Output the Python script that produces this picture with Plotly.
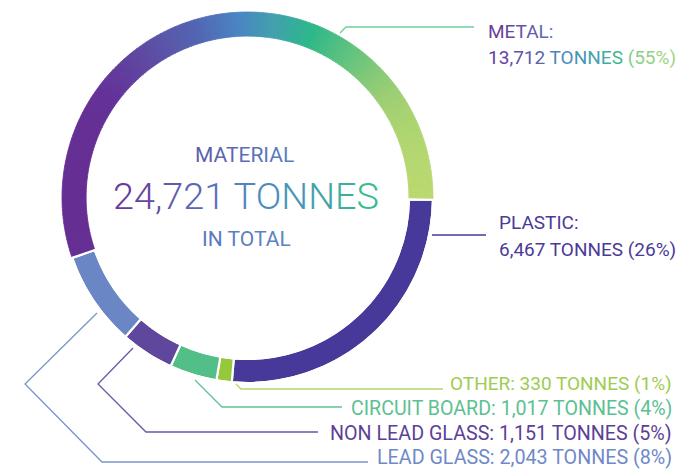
import plotly.graph_objects as go
import math

# ---------------- data ----------------
categories = ["METAL", "PLASTIC", "OTHER", "CIRCUIT BOARD", "NON LEAD GLASS", "LEAD GLASS"]
tonnes = [13712, 6467, 330, 1017, 1151, 2043]
total_label = "24,721"
slice_colors = ["#4a86c3", "#47399a", "#95c83a", "#52be88", "#5f479e", "#6b86c4"]
label_colors = ["#5a6fb5", "#4b3a98", "#9dcd52", "#5cc191", "#5e3f98", "#6f89c8"]

W, H = 678, 470
FONT = "Roboto"


def fx(x):
    return x / W


def fy(y):
    return 1 - y / H


def hex2rgb(h):
    h = h.lstrip("#")
    return tuple(int(h[i:i + 2], 16) for i in (0, 2, 4))


def interp(stops, t):
    t = max(0.0, min(1.0, t))
    for (t0, c0), (t1, c1) in zip(stops[:-1], stops[1:]):
        if t <= t1:
            a = (t - t0) / (t1 - t0) if t1 > t0 else 0
            r0, r1 = hex2rgb(c0), hex2rgb(c1)
            return "#%02x%02x%02x" % tuple(int(round(r0[k] + (r1[k] - r0[k]) * a)) for k in range(3))
    return stops[-1][1]


ring_stops = [(0.0, "#662d91"), (0.12, "#653198"), (0.25, "#5d4fa5"), (0.37, "#5267b3"),
              (0.48, "#4a86c3"), (0.57, "#42a0ae"), (0.67, "#2db88a"), (0.78, "#66c47e"),
              (0.88, "#9ecf73"), (1.0, "#c4dd6e")]


def grad_text(text, stops):
    n = max(1, len(text) - 1)
    out = []
    for i, ch in enumerate(text):
        c = interp(stops, i / n)
        out.append('<span style="color:%s">%s</span>' % (c, ch))
    return "".join(out)


total = sum(tonnes)
pcts = [round(v / total * 100) for v in tonnes]

# donut geometry (pixels)
cx, cy, R = 247.5, 197.5, 185.5
dom_x = [fx(cx - R), fx(cx + R)]
dom_y = [fy(cy + R), fy(cy - R)]
HOLE = 0.87
ROT = 251

fig = go.Figure()
fig.add_trace(go.Pie(
    labels=categories, values=tonnes, sort=False, direction="clockwise", rotation=ROT,
    hole=HOLE, domain=dict(x=dom_x, y=dom_y), textinfo="none", showlegend=False,
    marker=dict(colors=slice_colors, line=dict(color="white", width=2.2)),
))

# gradient overlay on the metal slice (derived from metal value)
N = 160
metal = tonnes[0]
span = metal / total * 360
rmid = R * (1 + HOLE) / 2
grad_cols = []
for i in range(N):
    ang = math.radians(ROT + (i + 0.5) * span / N)
    x = cx + rmid * math.sin(ang)
    grad_cols.append(interp(ring_stops, (x - (cx - R)) / (2 * R)))
fig.add_trace(go.Pie(
    values=[metal / N] * N + [total - metal], labels=["m%d" % i for i in range(N)] + ["rest"],
    sort=False, direction="clockwise", rotation=ROT, hole=HOLE,
    domain=dict(x=dom_x, y=dom_y), textinfo="none", showlegend=False, hoverinfo="skip",
    marker=dict(colors=grad_cols + ["rgba(0,0,0,0)"],
                line=dict(color=grad_cols + ["white"], width=[0.8] * N + [2.2])),
))

ann = []

# center text
ann.append(dict(x=fx(244), y=fy(155), text=grad_text("MATERIAL", [(0, "#5d5fac"), (1, "#5a80c1")]),
                font=dict(family=FONT, size=21), showarrow=False, xanchor="center", yanchor="middle"))
big_stops = [(0, "#6a3a9d"), (0.45, "#5577bb"), (0.7, "#4a8fc0"), (1, "#36bc90")]
ann.append(dict(x=fx(245.5), y=fy(196), text=grad_text(f"{total_label} TONNES", big_stops),
                font=dict(family=FONT, size=37.8, weight=300), showarrow=False,
                xanchor="center", yanchor="middle"))
ann.append(dict(x=fx(246), y=fy(239), text=grad_text("IN TOTAL", [(0, "#5a78bf"), (1, "#5b84c4")]),
                font=dict(family=FONT, size=21), showarrow=False, xanchor="center", yanchor="middle"))

LS = 19

# METAL label (gradient)
ann.append(dict(x=fx(486), y=fy(32), text=grad_text(categories[0] + ":", [(0, "#6b3c9c"), (1, "#5a72b9")]),
                font=dict(family=FONT, size=LS), showarrow=False, xanchor="left", yanchor="middle"))
metal_line = (grad_text(f"{tonnes[0]:,}", [(0, "#6a3a9e"), (1, "#5a63b0")])
              + grad_text(" TONNES", [(0, "#5278ba"), (0.3, "#4d88c4"), (1, "#3db795")])
              + grad_text(f" ({pcts[0]}%)", [(0, "#7cc98e"), (1, "#a3d67f")]))
ann.append(dict(x=fx(486), y=fy(57), text=metal_line,
                font=dict(family=FONT, size=LS), showarrow=False, xanchor="left", yanchor="middle"))

# PLASTIC label
ann.append(dict(x=fx(497), y=fy(223), text=categories[1] + ":",
                font=dict(family=FONT, size=LS, color=label_colors[1]), showarrow=False,
                xanchor="left", yanchor="middle"))
ann.append(dict(x=fx(497), y=fy(249), text=f"{tonnes[1]:,} TONNES ({pcts[1]}%)",
                font=dict(family=FONT, size=LS, color=label_colors[1]), showarrow=False,
                xanchor="left", yanchor="middle"))

# bottom labels (right aligned)
bottom_y = [383, 408, 433, 457]
bottom_sizes = [19.0, 19.6, 19.7, 19.7]
for k, yy, fs in zip(range(2, 6), bottom_y, bottom_sizes):
    ann.append(dict(x=fx(673.5), y=fy(yy), text=f"{categories[k]}: {tonnes[k]:,} TONNES ({pcts[k]}%)",
                    font=dict(family=FONT, size=fs, color=label_colors[k]), showarrow=False,
                    xanchor="right", yanchor="middle"))

# leader lines (pixel paths)
leaders = [
    ([(340, 33), (346, 27), (474, 27)], "#6fcf9c"),
    ([(432, 235), (486, 235)], "#4a3a96"),
    ([(236, 384), (241, 389), (443, 389)], "#b2d66b"),
    ([(195, 380), (222, 407), (342, 407)], "#5bc592"),
    ([(133, 348), (98, 384), (146, 432), (318, 432)], "#6b55a8"),
    ([(97, 313), (25, 384), (102, 462), (368, 462)], "#7b93cc"),
]
shapes = []
for pts, col in leaders:
    path = "M " + " L ".join(f"{fx(x):.5f},{fy(y):.5f}" for x, y in pts)
    shapes.append(dict(type="path", xref="paper", yref="paper", path=path,
                       line=dict(color=col, width=1.3)))

fig.update_layout(
    width=W, height=H, margin=dict(l=0, r=0, t=0, b=0),
    paper_bgcolor="white", plot_bgcolor="white",
    annotations=ann, shapes=shapes, showlegend=False,
)

fig.write_html("out.html", config={"displayModeBar": False},
               post_script="document.body.style.margin='0';document.body.style.overflow='hidden';")
